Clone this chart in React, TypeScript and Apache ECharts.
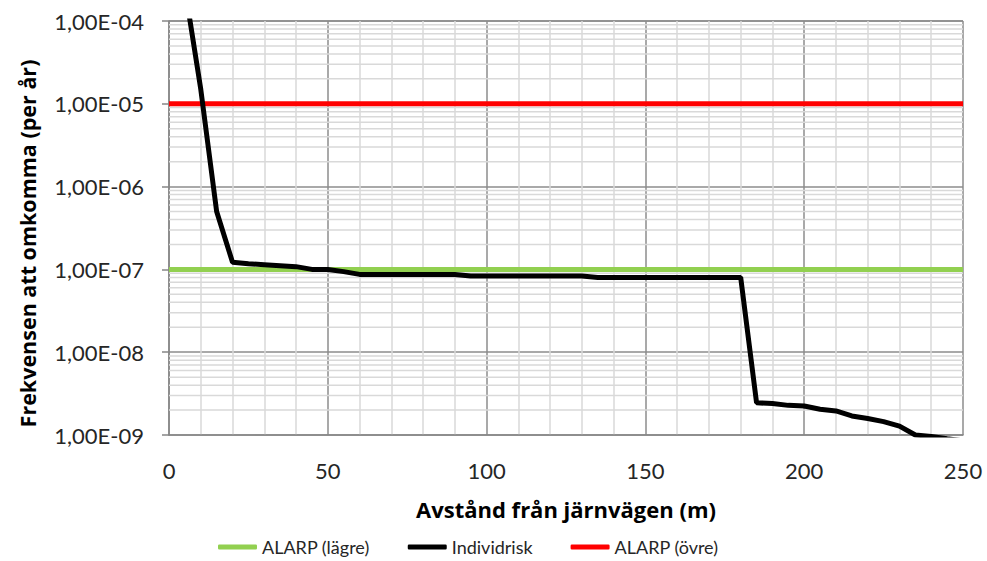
import React, { useEffect, useRef } from "react";
import * as echarts from "echarts";

const seriesNames = ["ALARP (lägre)", "Individrisk", "ALARP (övre)"];

// Distance from the railway (m)
const distances = [
  5, 10, 15, 20, 25, 30, 35, 40, 45, 50, 55, 60, 65, 70, 75, 80, 85, 90, 95, 100,
  105, 110, 115, 120, 125, 130, 135, 140, 145, 150, 155, 160, 165, 170, 175, 180,
  185, 190, 195, 200, 205, 210, 215, 220, 225, 230, 235, 240, 245, 250,
];
// Individual risk (per year)
const individualRisk = [
  2.5e-4, 1.5e-5, 5.0e-7, 1.22e-7, 1.17e-7, 1.14e-7, 1.11e-7, 1.08e-7, 1.0e-7, 1.0e-7,
  9.4e-8, 8.7e-8, 8.7e-8, 8.7e-8, 8.7e-8, 8.7e-8, 8.7e-8, 8.7e-8, 8.3e-8, 8.3e-8,
  8.3e-8, 8.3e-8, 8.3e-8, 8.3e-8, 8.3e-8, 8.3e-8, 8.0e-8, 8.0e-8, 8.0e-8, 8.0e-8,
  8.0e-8, 8.0e-8, 8.0e-8, 8.0e-8, 8.0e-8, 8.0e-8,
  2.45e-9, 2.4e-9, 2.28e-9, 2.24e-9, 2.05e-9, 1.95e-9, 1.7e-9, 1.58e-9, 1.45e-9, 1.28e-9,
  1.0e-9, 9.6e-10, 9.0e-10, 8.5e-10,
];
const alarpXs = [0, 250];
const alarpLower = [1e-7, 1e-7];
const alarpUpper = [1e-5, 1e-5];

const yTicks = [1e-9, 1e-8, 1e-7, 1e-6, 1e-5, 1e-4];
const minorMultipliers = [2, 3, 4, 5, 6, 7, 8, 9];

const FONT = "Lato";
const TITLE_FONT = "Open Sans";

function fmt(v: number): string {
  const e = Math.round(Math.log10(v));
  const sign = e < 0 ? "-" : "+";
  return "1,00E" + sign + String(Math.abs(e)).padStart(2, "0");
}

export default function App() {
  const ref = useRef<HTMLDivElement>(null);
  useEffect(() => {
    if (!ref.current) return;
    const chart = echarts.init(ref.current, undefined, { renderer: "svg" });
    const minorValues: number[] = [];
    yTicks.slice(0, -1).forEach((d) =>
      minorMultipliers.forEach((m) => minorValues.push(m * d))
    );
    const option: any = {
      animation: false,
      backgroundColor: "#ffffff",
      textStyle: { fontFamily: FONT },
      grid: { left: 169, right: 24, top: 21, bottom: 126, containLabel: false, outerBoundsMode: "none" },
      legend: {
        data: seriesNames,
        left: 218,
        top: 538,
        padding: 0,
        itemWidth: 39,
        itemHeight: 5,
        itemGap: 38,
        icon: "roundRect",
        textStyle: { fontFamily: FONT, fontSize: 18, lineHeight: 18, color: "#262626" },
      },
      xAxis: {
        type: "value",
        min: 0,
        max: 250,
        interval: 50,
        name: "Avstånd från järnvägen (m)",
        nameLocation: "middle",
        nameGap: 63,
        nameTextStyle: { fontFamily: TITLE_FONT, fontSize: 22, fontWeight: "bold", color: "#000" },
        axisLine: { show: true, lineStyle: { color: "#868686", width: 1.5 } },
        axisTick: { show: false },
        axisLabel: { margin: 24, fontSize: 22, color: "#262626", fontFamily: FONT },
        splitLine: { show: true, lineStyle: { color: "#8c8c8c", width: 1.5 } },
        minorTick: { show: false, splitNumber: 5 },
        minorSplitLine: { show: true, lineStyle: { color: "#d9d9d9", width: 1.5 } },
      },
      yAxis: {
        type: "log",
        logBase: 10,
        min: 1e-9,
        max: 1e-4,
        name: "Frekvensen att omkomma (per år)",
        nameLocation: "middle",
        nameGap: 131,
        nameTextStyle: {
          fontFamily: TITLE_FONT,
          fontSize: 21.5,
          fontWeight: "bold",
          color: "#000",
          padding: [0, 31, 0, 0],
        },
        axisLine: { show: true, lineStyle: { color: "#868686", width: 1.5 } },
        axisTick: { show: true, inside: false, length: 7, lineStyle: { color: "#868686", width: 1.5 } },
        axisLabel: { margin: 25, fontSize: 22, color: "#262626", fontFamily: FONT, formatter: fmt },
        splitLine: { show: true, lineStyle: { color: "#8c8c8c", width: 1.5 } },
      },
      series: [
        {
          name: "_minor",
          type: "custom",
          silent: true,
          z: 1,
          data: minorValues.map((v) => [0, v]),
          renderItem: (params: any, api: any) => {
            const y = api.value(1);
            const p1 = api.coord([0, y]);
            const p2 = api.coord([250, y]);
            return {
              type: "line",
              shape: { x1: p1[0], y1: p1[1], x2: p2[0], y2: p2[1] },
              style: { stroke: "#d9d9d9", lineWidth: 1.5 },
            };
          },
        },
        {
          name: seriesNames[0],
          type: "line",
          data: alarpXs.map((x, i) => [x, alarpLower[i]]),
          showSymbol: false,
          symbol: "none",
          lineStyle: { color: "#92d050", width: 5 },
          itemStyle: { color: "#92d050" },
          z: 3,
        },
        {
          name: seriesNames[2],
          type: "line",
          data: alarpXs.map((x, i) => [x, alarpUpper[i]]),
          showSymbol: false,
          symbol: "none",
          lineStyle: { color: "#ff0000", width: 5 },
          itemStyle: { color: "#ff0000" },
          z: 3,
        },
        {
          name: seriesNames[1],
          type: "line",
          data: distances.map((x, i) => [x, individualRisk[i]]),
          showSymbol: false,
          symbol: "none",
          clip: true,
          lineStyle: { color: "#000000", width: 5 },
          itemStyle: { color: "#000000" },
          z: 4,
        },
      ],
    };
    chart.setOption(option);
    return () => chart.dispose();
  }, []);
  return <div ref={ref} style={{ width: 987, height: 561, position: "absolute", left: 0, top: 0 }} />;
}
